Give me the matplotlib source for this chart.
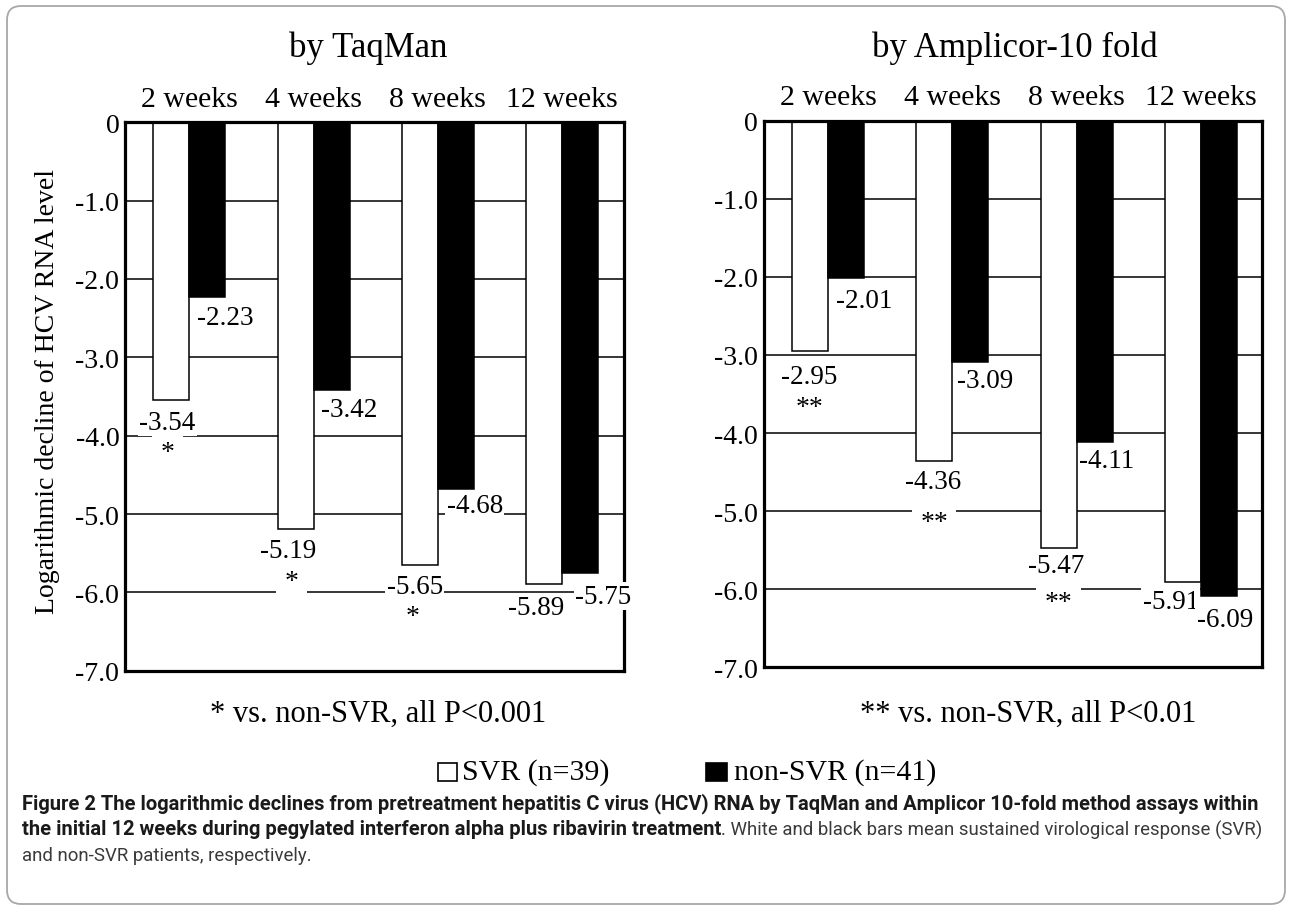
import matplotlib
matplotlib.use('Agg')
import matplotlib.pyplot as plt
from matplotlib.patches import FancyBboxPatch, Rectangle
from matplotlib.transforms import IdentityTransform
from matplotlib import font_manager

weeks = ['2 weeks', '4 weeks', '8 weeks', '12 weeks']
taqman_svr = [-3.54, -5.19, -5.65, -5.89]
taqman_non = [-2.23, -3.42, -4.68, -5.75]
amplicor_svr = [-2.95, -4.36, -5.47, -5.91]
amplicor_non = [-2.01, -3.09, -4.11, -6.09]
taqman_sig = ['*', '*', '*', '']
amplicor_sig = ['**', '**', '**', '']
yticks = [0, -1, -2, -3, -4, -5, -6, -7]
ytick_labels = ['0', '-1.0', '-2.0', '-3.0', '-4.0', '-5.0', '-6.0', '-7.0']

W, H = 1292, 912
SERIF = 'Liberation Serif'


def px(v):
    # pixels -> points at dpi 100
    return v * 0.72


def pick_font(names):
    for n in names:
        try:
            font_manager.findfont(n, fallback_to_default=False)
            return n
        except Exception:
            pass
    return 'DejaVu Sans'


fig = plt.figure(figsize=(W / 100, H / 100), dpi=100)

# rounded frame around the whole figure
fig.patches.append(FancyBboxPatch((7, 7), W - 14, H - 14,
                                  boxstyle='round,pad=0,rounding_size=14',
                                  transform=IdentityTransform(), fill=False,
                                  edgecolor='#a8a8a8', lw=1.3))

panels = [
    dict(rect=[125.3, 123.3, 623.7, 671.7], title='by TaqMan', tx=368,
         svr=taqman_svr, non=taqman_non, sig=taqman_sig,
         svr_dx=[-4, -7, -5, -8], svr_dy=[22.5, 22, 22, 23.5],
         non_dx=[18, 18, 19, 23], non_dy=[20, 19, 17, 23.5],
         sig_dx=[-4, -4, -7], sig_dy=[24, 25, 24]),
    dict(rect=[764, 121.7, 1262.4, 668.3], title='by Amplicor-10 fold', tx=1015,
         svr=amplicor_svr, non=amplicor_non, sig=amplicor_sig,
         svr_dx=[-1, -1, -2, -12], svr_dy=[25, 20, 18, 19],
         non_dx=[18, 15, 12, 6], non_dy=[23, 19, 19, 23],
         sig_dx=[0, 0, 0], sig_dy=[25, 35, 31]),
]

bw = 0.29
x = list(range(len(weeks)))
box = dict(facecolor='white', edgecolor='none', pad=1)

for p in panels:
    l, t, r, b = p['rect']
    ax = fig.add_axes([l / W, 1 - b / H, (r - l) / W, (b - t) / H])
    ax.set_axisbelow(True)
    ax.yaxis.grid(True, color='black', lw=1.1)
    ax.bar([i - bw / 2 for i in x], p['svr'], bw, color='white',
           edgecolor='black', lw=1.1, zorder=2)
    ax.bar([i + bw / 2 for i in x], p['non'], bw, color='black',
           edgecolor='black', lw=1.1, zorder=2)
    ax.set_xlim(-0.515, 3.495)
    ax.set_ylim(-7, 0)
    ax.set_xticks([])
    ax.set_yticks(yticks)
    ax.set_yticklabels(ytick_labels, family=SERIF, fontsize=20)
    ax.tick_params(axis='y', length=0, pad=px(6))
    for s in ax.spines.values():
        s.set_linewidth(2.3)

    for i, wk in enumerate(weeks):
        ax.text(i, 1 + 16.5 / (b - t), wk, transform=ax.get_xaxis_transform(),
                ha='center', va='baseline', family=SERIF, fontsize=21.5)
        ax.annotate(f'{p["svr"][i]:.2f}', (i - bw / 2, p['svr'][i]),
                    xytext=(px(p['svr_dx'][i]), -px(p['svr_dy'][i])),
                    textcoords='offset points', ha='center', va='center',
                    family=SERIF, fontsize=19.5, bbox=box, zorder=4,
                    annotation_clip=False)
        ax.annotate(f'{p["non"][i]:.2f}', (i + bw / 2, p['non'][i]),
                    xytext=(px(p['non_dx'][i]), -px(p['non_dy'][i])),
                    textcoords='offset points', ha='center', va='center',
                    family=SERIF, fontsize=19.5, bbox=box, zorder=4,
                    annotation_clip=False)
        if p['sig'][i]:
            ax.annotate(p['sig'][i], (i - bw / 2, p['svr'][i]),
                        xytext=(px(p['sig_dx'][i]),
                                -px(p['svr_dy'][i] + p['sig_dy'][i] + 6)),
                        textcoords='offset points', ha='center', va='center',
                        family=SERIF, fontsize=20,
                        bbox=dict(facecolor='white', edgecolor='none', pad=6),
                        zorder=4, annotation_clip=False)

    fig.text(p['tx'] / W, 1 - 57 / H, p['title'], ha='center', va='baseline',
             family=SERIF, fontsize=25)

fig.text(48 / W, 1 - 392 / H, 'Logarithmic decline of HCV RNA level',
         rotation=90, ha='center', va='center', family=SERIF, fontsize=20)

fig.text(378 / W, 1 - 714 / H, '* vs. non-SVR, all P<0.001', ha='center',
         va='center', family=SERIF, fontsize=22)
fig.text(1028 / W, 1 - 714 / H, '** vs. non-SVR, all P<0.01', ha='center',
         va='center', family=SERIF, fontsize=22)

# legend
ly = 773
fig.patches.append(Rectangle((438, H - ly - 9), 19, 18, transform=IdentityTransform(),
                             facecolor='white', edgecolor='black', lw=1.2))
fig.text(462 / W, 1 - ly / H, 'SVR (n=39)', ha='left', va='center',
         family=SERIF, fontsize=21.5)
fig.patches.append(Rectangle((706, H - ly - 9), 21, 18, transform=IdentityTransform(),
                             facecolor='black', edgecolor='black', lw=1.2))
fig.text(734 / W, 1 - ly / H, 'non-SVR (n=41)', ha='left', va='center',
         family=SERIF, fontsize=21.5)

# caption, sized to fit the frame
cap_font = pick_font(['Liberation Sans Narrow', 'Roboto', 'Open Sans'])
line1 = ('Figure 2 The logarithmic declines from pretreatment hepatitis C virus (HCV) '
         'RNA by TaqMan and Amplicor 10-fold method assays within')
line2b = ('the initial 12 weeks during pegylated interferon alpha plus ribavirin '
          'treatment')
line2r = '. White and black bars mean sustained virological response (SVR)'
line3 = 'and non-SVR patients, respectively.'
x0, x_end = 22, 1263
fig.canvas.draw()
rend = fig.canvas.get_renderer()
t1 = fig.text(x0 / W, 1 - 804 / H, line1, ha='left', va='center', family=cap_font,
              weight='bold', fontsize=14, color='#1a1a1a')
fs = 14 * (x_end - x0) / t1.get_window_extent(rend).width
t1.set_fontsize(fs)
t2 = fig.text(x0 / W, 1 - 830 / H, line2b, ha='left', va='center', family=cap_font,
              weight='bold', fontsize=fs, color='#1a1a1a')
e2 = t2.get_window_extent(rend)
t2r = fig.text(e2.x1 / W, 1 - 830 / H, line2r, ha='left', va='center',
               family=cap_font, fontsize=fs, color='#3a3a3a')
fs_r = fs * min(1.0, (x_end - e2.x1) / t2r.get_window_extent(rend).width)
t2r.set_fontsize(fs_r)
fig.text(x0 / W, 1 - 856 / H, line3, ha='left', va='center', family=cap_font,
         fontsize=fs_r, color='#3a3a3a')

fig.savefig('out.png', dpi=100)
